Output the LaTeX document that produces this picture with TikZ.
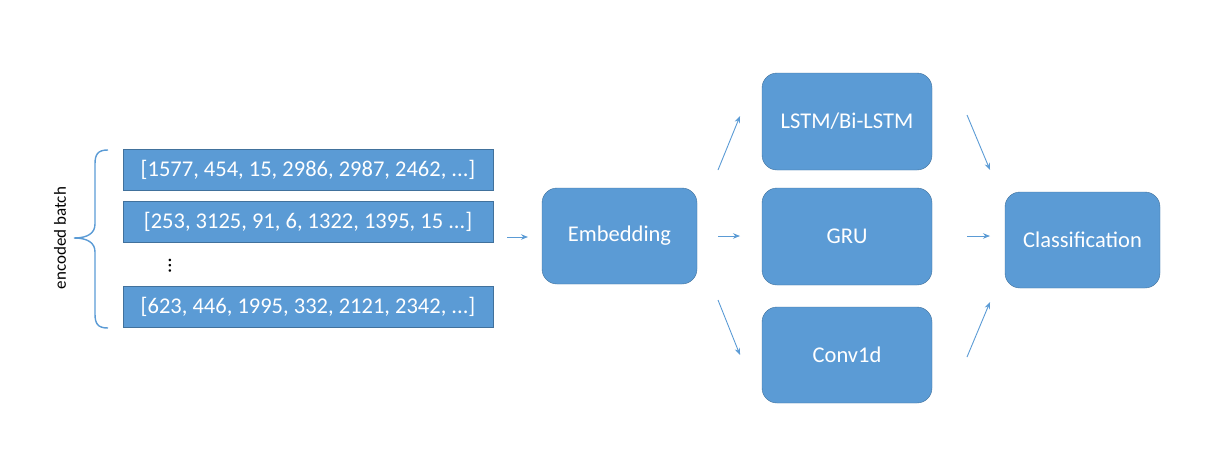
\documentclass[tikz,border=0pt]{standalone}
\usepackage{fontspec}
\setmainfont{Carlito}
\usetikzlibrary{arrows.meta}
\definecolor{boxblue}{HTML}{5B9BD5}
\definecolor{edgeblue}{HTML}{41719C}
\begin{document}
\begin{tikzpicture}[x=1pt,y=-1pt,
	seq/.style={draw=edgeblue,fill=boxblue,text=white,minimum width=370pt,minimum height=41pt,inner sep=0pt,font=\fontsize{22.5}{26}\selectfont},
	layer/.style={draw=edgeblue,fill=boxblue,text=white,rounded corners=15pt,minimum width=170pt,minimum height=97pt,inner sep=0pt,font=\fontsize{22.5}{26}\selectfont},
	arr/.style={draw=boxblue,line width=0.9pt,-{Stealth[length=7pt,width=5.5pt]}}]
	\useasboundingbox (0,0) rectangle (1207,469);
	% input batch
	\node[seq] (seq1) at (308,170) {[1577, 454, 15, 2986, 2987, 2462, ...]};
	\node[seq] (seq2) at (308,221.5) { [253, 3125, 91, 6, 1322, 1395, 15 ...]};
	\node[rotate=-90,inner sep=0pt,font=\fontsize{21}{24}\selectfont] (dots) at (170,265.5) {…};
	\node[seq] (seq3) at (308,307) {[623, 446, 1995, 332, 2121, 2342, ...]};
	\draw[boxblue,line width=1.4pt] (108,150) .. controls (98,150) and (95,154) .. (95,164) -- (95,224) .. controls (95,233) and (88,238) .. (74,238) .. controls (88,238) and (95,243) .. (95,252) -- (95,314) .. controls (95,324) and (98,328) .. (108,328);
	\node[rotate=90,font=\fontsize{17}{20}\selectfont] (lbl) at (60,238) {encoded batch};
	% layers
	\node[layer,minimum width=155pt,minimum height=96pt] (emb) at (619.5,236) {Embedding};
	\node[layer] (lstm) at (847,121.5) {LSTM/Bi-LSTM};
	\node[layer] (gru) at (847,236.5) {GRU};
	\node[layer,minimum height=96pt] (conv) at (847,355) {Conv1d};
	\node[layer,minimum width=155pt,minimum height=96pt] (cls) at (1082.5,240) {Classification};
	% arrows
	\coordinate (b0) at (507,237); \coordinate (b1) at (528,237);
	\coordinate (l0) at (718,170); \coordinate (l1) at (740,116);
	\coordinate (g0) at (718,236); \coordinate (g1) at (740,236);
	\coordinate (c0) at (718,300); \coordinate (c1) at (740,355);
	\coordinate (l2) at (967,115); \coordinate (l3) at (990,170);
	\coordinate (g2) at (967,236); \coordinate (g3) at (990,236);
	\coordinate (c2) at (967,357); \coordinate (c3) at (990,302);
	\foreach \s/\t in {b0/b1,l0/l1,g0/g1,c0/c1,l2/l3,g2/g3,c2/c3}
		\draw[arr] (\s) -- (\t);
\end{tikzpicture}
\end{document}
